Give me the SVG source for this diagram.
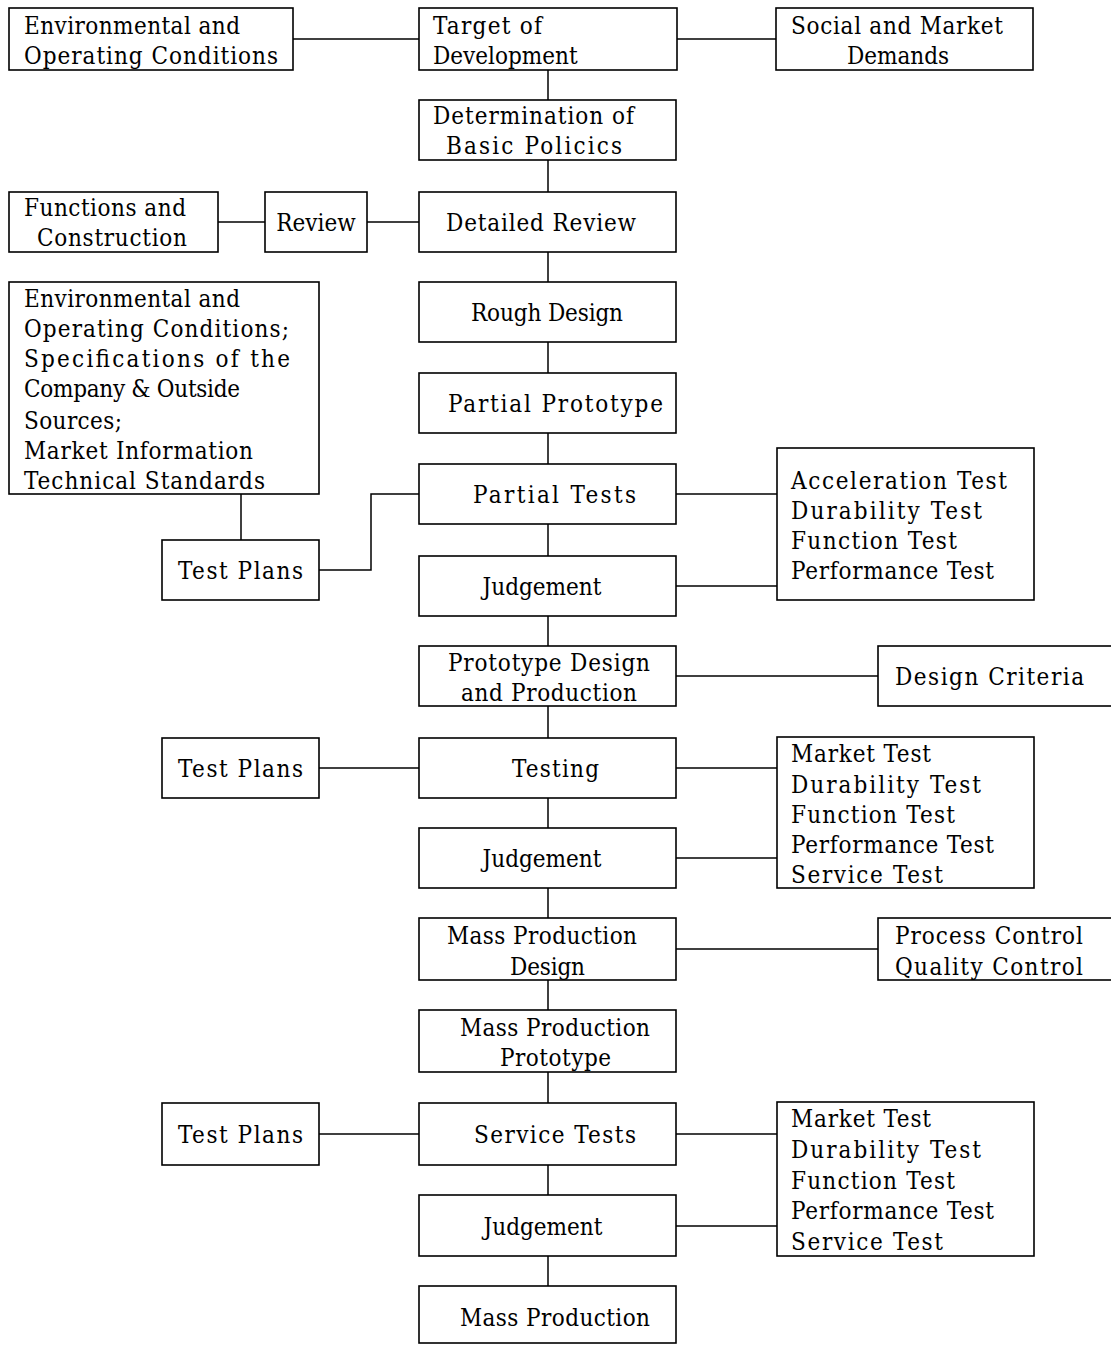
<svg xmlns="http://www.w3.org/2000/svg" width="1111" height="1347" viewBox="0 0 1111 1347">
<style>
rect{fill:#fff;stroke:#000;stroke-width:1.6}
.c line,.c path{stroke:#000;stroke-width:1.5;fill:none}
text{font-family:"DejaVu Serif Condensed","DejaVu Serif","Liberation Serif",serif;font-size:24px;fill:#000}
.m{text-anchor:middle}
</style>
<rect x="0" y="0" width="1111" height="1347" style="stroke:none"/>
<g class="c" id="connectors">
<line x1="293" y1="39" x2="419" y2="39"/>
<line x1="677" y1="39" x2="776" y2="39"/>
<line x1="548" y1="70" x2="548" y2="100"/>
<line x1="548" y1="160" x2="548" y2="192"/>
<line x1="218" y1="222" x2="265" y2="222"/>
<line x1="367" y1="222" x2="419" y2="222"/>
<line x1="548" y1="252" x2="548" y2="282"/>
<line x1="548" y1="342" x2="548" y2="373"/>
<line x1="548" y1="433" x2="548" y2="464"/>
<line x1="241" y1="494" x2="241" y2="540"/>
<path d="M319 570 H371 V494 H419"/>
<line x1="676" y1="494" x2="777" y2="494"/>
<line x1="548" y1="524" x2="548" y2="556"/>
<line x1="676" y1="586" x2="777" y2="586"/>
<line x1="548" y1="616" x2="548" y2="646"/>
<line x1="676" y1="676" x2="878" y2="676"/>
<line x1="548" y1="706" x2="548" y2="738"/>
<line x1="319" y1="768" x2="419" y2="768"/>
<line x1="676" y1="768" x2="777" y2="768"/>
<line x1="548" y1="798" x2="548" y2="828"/>
<line x1="676" y1="858" x2="777" y2="858"/>
<line x1="548" y1="888" x2="548" y2="918"/>
<line x1="676" y1="949" x2="878" y2="949"/>
<line x1="548" y1="980" x2="548" y2="1010"/>
<line x1="548" y1="1072" x2="548" y2="1103"/>
<line x1="319" y1="1134" x2="419" y2="1134"/>
<line x1="676" y1="1134" x2="777" y2="1134"/>
<line x1="548" y1="1165" x2="548" y2="1195"/>
<line x1="676" y1="1226" x2="777" y2="1226"/>
<line x1="548" y1="1256" x2="548" y2="1286"/>
</g>
<g id="env1"><rect x="9" y="8" width="284" height="62"/>
<text x="24" y="34" textLength="216">Environmental and</text>
<text x="24" y="64" textLength="254">Operating Conditions</text></g>
<g id="target"><rect x="419" y="8" width="258" height="62"/>
<text x="433" y="34" textLength="109">Target of</text>
<text x="433" y="64">Development</text></g>
<g id="social"><rect x="776" y="8" width="257" height="62"/>
<text x="791" y="34" textLength="212">Social and Market</text>
<text x="898" y="64" class="m">Demands</text></g>
<g id="policies"><rect x="419" y="100" width="257" height="60"/>
<text x="433" y="124" textLength="201">Determination of</text>
<text x="446" y="154" textLength="176">Basic Policics</text></g>
<g id="functions"><rect x="9" y="192" width="209" height="60"/>
<text x="24" y="216" textLength="162">Functions and</text>
<text x="37" y="246" textLength="150">Construction</text></g>
<g id="review"><rect x="265" y="192" width="102" height="60"/>
<text x="316" y="231" class="m">Review</text></g>
<g id="detailed"><rect x="419" y="192" width="257" height="60"/>
<text x="446" y="231" textLength="190">Detailed Review</text></g>
<g id="rough"><rect x="419" y="282" width="257" height="60"/>
<text x="471" y="321" textLength="152">Rough Design</text></g>
<g id="env2"><rect x="9" y="282" width="310" height="212"/>
<text x="24" y="307" textLength="216">Environmental and</text>
<text x="24" y="337" textLength="265">Operating Conditions;</text>
<text x="24" y="367" textLength="266">Specifications of the</text>
<text x="24" y="397" textLength="216">Company &amp; Outside</text>
<text x="24" y="429" textLength="98">Sources;</text>
<text x="24" y="459" textLength="229">Market Information</text>
<text x="24" y="489" textLength="241">Technical Standards</text></g>
<g id="pprototype"><rect x="419" y="373" width="257" height="60"/>
<text x="448" y="412" textLength="215">Partial Prototype</text></g>
<g id="ptests"><rect x="419" y="464" width="257" height="60"/>
<text x="473" y="503" textLength="163">Partial Tests</text></g>
<g id="testplans1"><rect x="162" y="540" width="157" height="60"/>
<text x="178" y="579" textLength="125">Test Plans</text></g>
<g id="judgement1"><rect x="419" y="556" width="257" height="60"/>
<text x="542" y="595" class="m">Judgement</text></g>
<g id="tests1"><rect x="777" y="448" width="257" height="152"/>
<text x="791" y="489" textLength="216">Acceleration Test</text>
<text x="791" y="519" textLength="191">Durability Test</text>
<text x="791" y="549" textLength="166">Function Test</text>
<text x="791" y="579" textLength="203">Performance Test</text></g>
<g id="protodesign"><rect x="419" y="646" width="257" height="60"/>
<text x="448" y="671" textLength="202">Prototype Design</text>
<text x="461" y="701" textLength="176">and Production</text></g>
<g id="criteria"><rect x="878" y="646" width="240" height="60"/>
<text x="895" y="685" textLength="189">Design Criteria</text></g>
<g id="testplans2"><rect x="162" y="738" width="157" height="60"/>
<text x="178" y="777" textLength="125">Test Plans</text></g>
<g id="testing"><rect x="419" y="738" width="257" height="60"/>
<text x="512" y="777" textLength="87">Testing</text></g>
<g id="tests2"><rect x="777" y="737" width="257" height="151"/>
<text x="791" y="762" textLength="140">Market Test</text>
<text x="791" y="793" textLength="190">Durability Test</text>
<text x="791" y="823" textLength="164">Function Test</text>
<text x="791" y="853" textLength="203">Performance Test</text>
<text x="791" y="883" textLength="152">Service Test</text></g>
<g id="judgement2"><rect x="419" y="828" width="257" height="60"/>
<text x="542" y="867" class="m">Judgement</text></g>
<g id="mpdesign"><rect x="419" y="918" width="257" height="62"/>
<text x="447" y="944" textLength="190">Mass Production</text>
<text x="510" y="975" textLength="75">Design</text></g>
<g id="control"><rect x="878" y="918" width="240" height="62"/>
<text x="895" y="944" textLength="188">Process Control</text>
<text x="895" y="975" textLength="188">Quality Control</text></g>
<g id="mpprototype"><rect x="419" y="1010" width="257" height="62"/>
<text x="460" y="1036" textLength="190">Mass Production</text>
<text x="500" y="1066" textLength="111">Prototype</text></g>
<g id="testplans3"><rect x="162" y="1103" width="157" height="62"/>
<text x="178" y="1143" textLength="125">Test Plans</text></g>
<g id="servicetests"><rect x="419" y="1103" width="257" height="62"/>
<text x="474" y="1143" textLength="162">Service Tests</text></g>
<g id="tests3"><rect x="777" y="1102" width="257" height="154"/>
<text x="791" y="1127" textLength="140">Market Test</text>
<text x="791" y="1158" textLength="190">Durability Test</text>
<text x="791" y="1189" textLength="164">Function Test</text>
<text x="791" y="1219" textLength="203">Performance Test</text>
<text x="791" y="1250" textLength="152">Service Test</text></g>
<g id="judgement3"><rect x="419" y="1195" width="257" height="61"/>
<text x="543" y="1235" class="m">Judgement</text></g>
<g id="massproduction"><rect x="419" y="1286" width="257" height="57"/>
<text x="460" y="1326" textLength="190">Mass Production</text></g>
</svg>
